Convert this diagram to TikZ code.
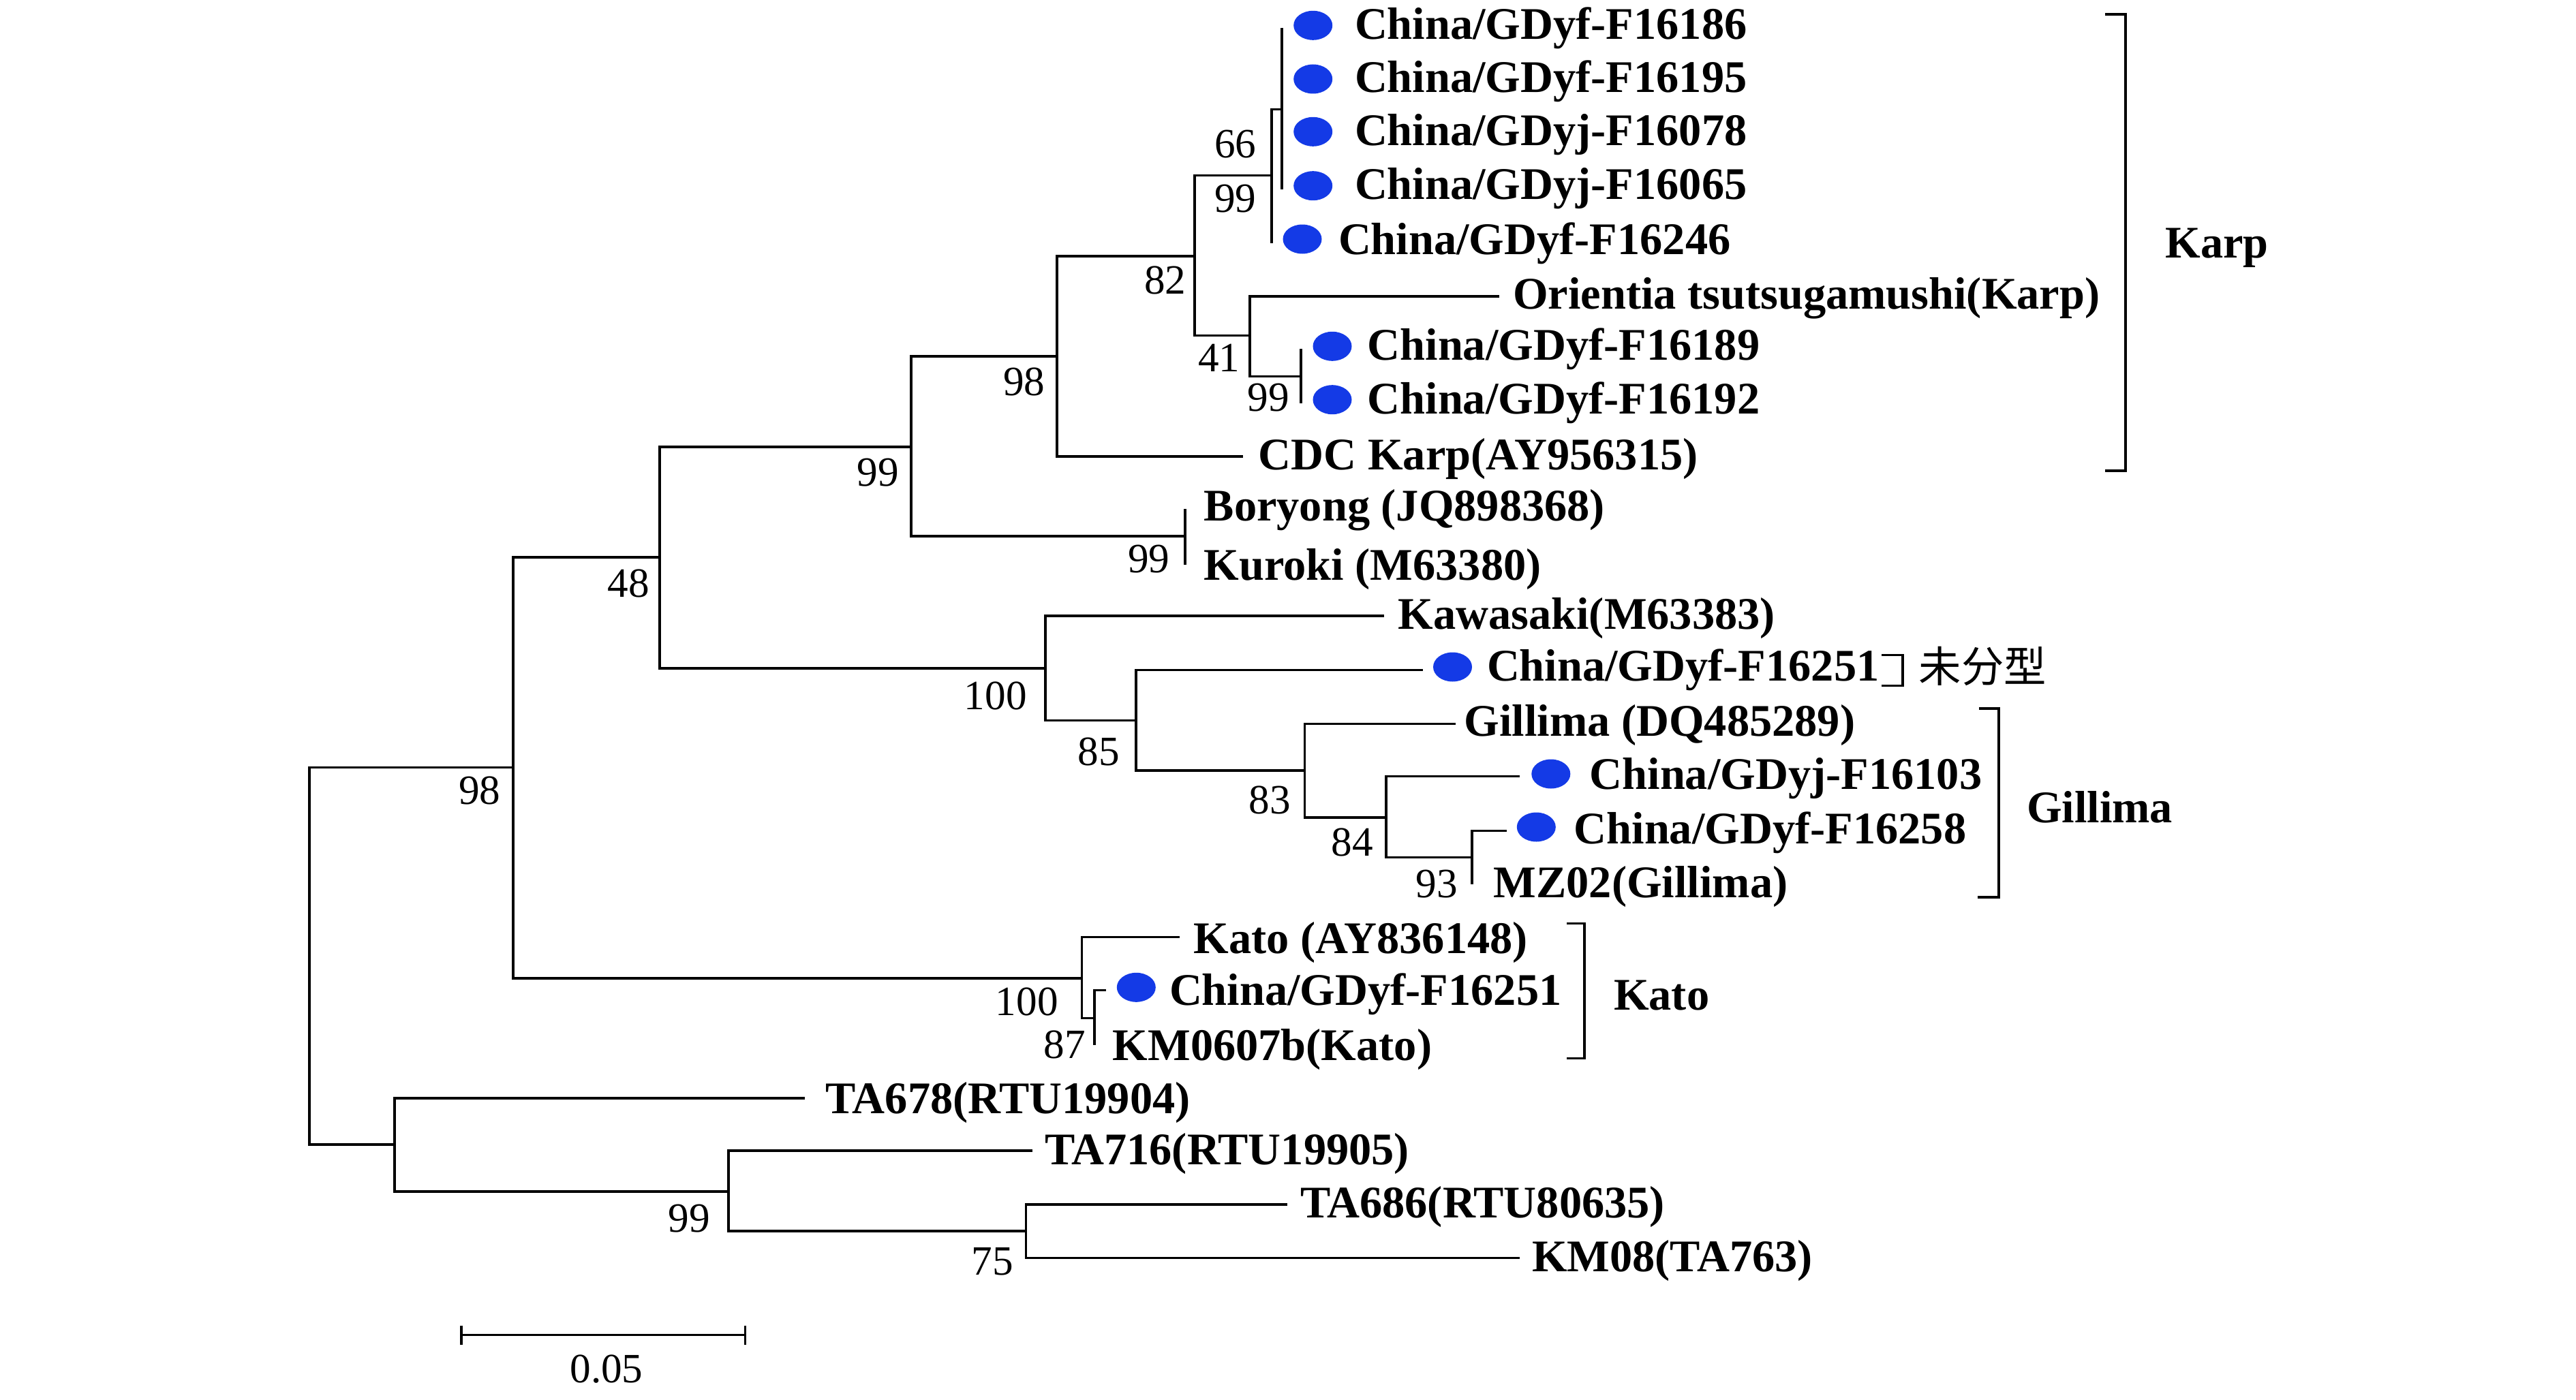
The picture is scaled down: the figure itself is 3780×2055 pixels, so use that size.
\documentclass[tikz,border=0pt]{standalone}
\usepackage{fontspec}
\setmainfont{Liberation Serif}
\newfontfamily\cjkfont{Noto Sans CJK SC}
\usetikzlibrary{shapes.geometric}
\definecolor{dotblue}{RGB}{20,58,230}
\begin{document}
\begin{tikzpicture}[x=0.25pt,y=-0.25pt,
  br/.style={line width=0.85pt, line join=miter},
  brk/.style={line width=0.8pt, line join=miter},
  leaf/.style={font=\fontsize{16.6}{19}\selectfont\bfseries, anchor=base west, inner sep=0pt, outer sep=0pt},
  bs/.style={font=\fontsize{15.3}{17}\selectfont, inner sep=0pt},
  dotn/.style={ellipse, fill=dotblue, draw=none, minimum width=14.25pt, minimum height=10.75pt, inner sep=0pt}
]
\useasboundingbox (0,0) rectangle (3780,2055);

% internal nodes and branch ends
\coordinate (R) at (454,1400);
\coordinate (A) at (753,1126.5);
\coordinate (N) at (579,1680);
\coordinate (B) at (968,818);
\coordinate (Kt) at (1587.5,1436);
\coordinate (C) at (1337,656);
\coordinate (I) at (1534,981);
\coordinate (D) at (1551,523);
\coordinate (Bo) at (1739,787);
\coordinate (E) at (1753,376);
\coordinate (cdc) at (1824,670);
\coordinate (F) at (1866,257.7);
\coordinate (G) at (1834,492.7);
\coordinate (F2) at (1881,160.7);
\coordinate (e5) at (1866,357);
\coordinate (f1) at (1881,40.7);
\coordinate (f4) at (1881,278);
\coordinate (o6) at (2200,435);
\coordinate (H) at (1909,552.3);
\coordinate (h7) at (1909,512.3);
\coordinate (h8) at (1909,592.3);
\coordinate (bo1) at (1739,747);
\coordinate (bo2) at (1739,829);
\coordinate (kw) at (2031,904);
\coordinate (J) at (1667,1057.6);
\coordinate (e13) at (2088,983.6);
\coordinate (K) at (1914.5,1131);
\coordinate (gi) at (2136,1062.5);
\coordinate (L) at (2034,1200);
\coordinate (e15) at (2229.7,1139.7);
\coordinate (M) at (2160,1258.3);
\coordinate (e16) at (2210.7,1219.3);
\coordinate (e17) at (2160,1298.3);
\coordinate (ka) at (1730.7,1375.7);
\coordinate (Ks) at (1606,1494.3);
\coordinate (e19) at (1622.7,1453.3);
\coordinate (e20) at (1606,1534);
\coordinate (t678) at (1181,1612);
\coordinate (O) at (1069,1749);
\coordinate (t716) at (1515,1689);
\coordinate (P) at (1505.7,1807);
\coordinate (t686) at (1888.5,1768);
\coordinate (km08) at (2230,1846.5);

% branches
\draw[br] (A) -| (R) |- (N);
\draw[br] (B) -| (A) |- (Kt);
\draw[br] (C) -| (B) |- (I);
\draw[br] (D) -| (C) |- (Bo);
\draw[br] (E) -| (D) |- (cdc);
\draw[br] (F) -| (E) |- (G);
\draw[br] (F2) -| (F) |- (e5);
\draw[br] (f1) -- (f4);
\draw[br] (o6) -| (G) |- (H);
\draw[br] (h7) -- (h8);
\draw[br] (bo1) -- (bo2);
\draw[br] (kw) -| (I) |- (J);
\draw[br] (e13) -| (J) |- (K);
\draw[br] (gi) -| (K) |- (L);
\draw[br] (e15) -| (L) |- (M);
\draw[br] (e16) -| (M) |- (e17);
\draw[br] (ka) -| (Kt) |- (Ks);
\draw[br] (e19) -| (Ks) |- (e20);
\draw[br] (t678) -| (N) |- (O);
\draw[br] (t716) -| (O) |- (P);
\draw[br] (t686) -| (P) |- (km08);

% dots
\node[dotn] (d1) at (1926.7,37.3) {};
\node[dotn] (d2) at (1926.7,116) {};
\node[dotn] (d3) at (1926.7,193.3) {};
\node[dotn] (d4) at (1926.7,272.7) {};
\node[dotn] (d5) at (1911,351) {};
\node[dotn] (d7) at (1955,508.3) {};
\node[dotn] (d8) at (1955,586.7) {};
\node[dotn] (d13) at (2131.5,979) {};
\node[dotn] (d15) at (2275.8,1136) {};
\node[dotn] (d16) at (2254.3,1214) {};
\node[dotn] (d19) at (1667.3,1449.3) {};

% leaf labels
\node[leaf] (l1) at (1988,57.5) {China/GDyf-F16186};
\node[leaf] (l2) at (1988,136) {China/GDyf-F16195};
\node[leaf] (l3) at (1988,213.5) {China/GDyj-F16078};
\node[leaf] (l4) at (1988,292.5) {China/GDyj-F16065};
\node[leaf] (l5) at (1964,373) {China/GDyf-F16246};
\node[leaf] (l6) at (2220,453) {Orientia tsutsugamushi(Karp)};
\node[leaf] (l7) at (2006.7,528.5) {China/GDyf-F16189};
\node[leaf] (l8) at (2006.7,607) {China/GDyf-F16192};
\node[leaf] (l9) at (1846.7,689) {CDC Karp(AY956315)};
\node[leaf] (l10) at (1766.7,764) {Boryong (JQ898368)};
\node[leaf] (l11) at (1766.7,851) {Kuroki (M63380)};
\node[leaf] (l12) at (2051.5,923) {Kawasaki(M63383)};
\node[leaf] (l13) at (2182,999) {China/GDyf-F16251};
\node[anchor=base west, inner sep=0pt, font=\cjkfont\fontsize{15.6}{18}\selectfont] (u13) at (2815,1001) {未分型};
\node[leaf] (l14) at (2148.5,1080) {Gillima (DQ485289)};
\node[leaf] (l15) at (2332.7,1158) {China/GDyj-F16103};
\node[leaf] (l16) at (2309.7,1238) {China/GDyf-F16258};
\node[leaf] (l17) at (2191.7,1317) {MZ02(Gillima)};
\node[leaf] (l18) at (1751.7,1399) {Kato (AY836148)};
\node[leaf] (l19) at (1716,1475) {China/GDyf-F16251};
\node[leaf] (l20) at (1632.7,1556) {KM0607b(Kato)};
\node[leaf] (l21) at (1211.6,1634) {TA678(RTU19904)};
\node[leaf] (l22) at (1533,1709) {TA716(RTU19905)};
\node[leaf] (l23) at (1908,1787) {TA686(RTU80635)};
\node[leaf] (l24) at (2248,1866) {KM08(TA763)};

% bootstrap values
\node[bs] (b1) at (703.6,1160.7) {98};
\node[bs] (b2) at (922.3,856.2) {48};
\node[bs] (b3) at (1288.4,694) {99};
\node[bs] (b4) at (1502.7,560) {98};
\node[bs] (b5) at (1709.8,411) {82};
\node[bs] (b6) at (1812.8,212) {66};
\node[bs] (b7) at (1812.8,292) {99};
\node[bs] (b8) at (1788.7,525.5) {41};
\node[bs] (b9) at (1861,583.4) {99};
\node[bs] (b10) at (1685.7,820.3) {99};
\node[bs] (b11) at (1460.7,1021.5) {100};
\node[bs] (b12) at (1612.5,1103.4) {85};
\node[bs] (b13) at (1863.5,1174.4) {83};
\node[bs] (b14) at (1984,1236.7) {84};
\node[bs] (b15) at (2108,1297.5) {93};
\node[bs] (b16) at (1506.7,1470.5) {100};
\node[bs] (b17) at (1562,1533.5) {87};
\node[bs] (b18) at (1011,1789) {99};
\node[bs] (b19) at (1456,1852) {75};

% group brackets
\draw[brk] (3089,21) -- (3119,21) -- (3119,691) -- (3089,691);
\draw[brk] (2904,1040) -- (2933,1040) -- (2933,1317) -- (2902,1317);
\draw[brk] (2299,1355.4) -- (2325,1355.4) -- (2325,1553.7) -- (2299,1553.7);
\draw[brk] (2761,961.7) -- (2792,961.7) -- (2792,1006.7) -- (2761,1006.7);
\node[leaf] (gK) at (3177.6,379) {Karp};
\node[leaf] (gG) at (2974,1207) {Gillima};
\node[leaf] (gKt) at (2368,1482) {Kato};

% scale bar
\coordinate (s1) at (677,1959.6);
\coordinate (s2) at (1093.7,1959.6);
\draw[br] (s1) -- (s2);
\draw[br] ([yshift=14*0.25pt]s1) -- ([yshift=-14*0.25pt]s1);
\draw[br] ([yshift=14*0.25pt]s2) -- ([yshift=-14*0.25pt]s2);
\node[bs] (sc) at (890,2010) {0.05};
\end{tikzpicture}
\end{document}
